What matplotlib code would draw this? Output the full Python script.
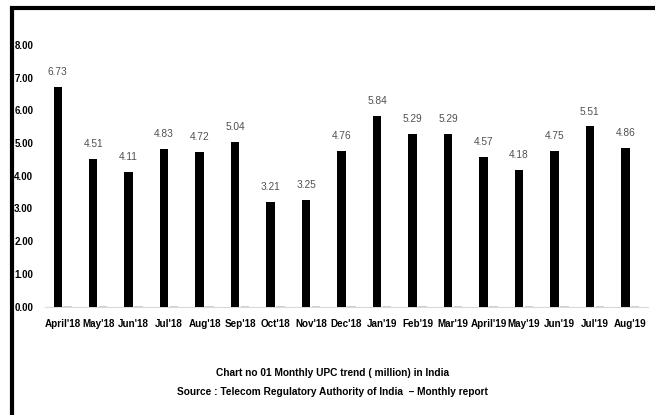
import numpy as np
import matplotlib
matplotlib.use("Agg")
import matplotlib.pyplot as plt
from matplotlib import font_manager
from matplotlib.patches import Rectangle

months = ["April'18", "May'18", "Jun'18", "Jul'18", "Aug'18", "Sep'18", "Oct'18",
          "Nov'18", "Dec'18", "Jan'19", "Feb'19", "Mar'19", "April'19", "May'19",
          "Jun'19", "Jul'19", "Aug'19"]
upc = [6.73, 4.51, 4.11, 4.83, 4.72, 5.04, 3.21, 3.25, 4.76, 5.84, 5.29, 5.29,
       4.57, 4.18, 4.75, 5.51, 4.86]
# second series in the original is almost zero (small grey stubs)
second = [0.03] * len(months)
yticks = [0, 1, 2, 3, 4, 5, 6, 7, 8]

names = {f.name for f in font_manager.fontManager.ttflist}
if 'Liberation Sans Narrow' in names:
    fam, k = 'Liberation Sans Narrow', 1.2
else:
    fam, k = 'Liberation Sans', 1.0
plt.rcParams['font.family'] = [fam, 'DejaVu Sans']

fig = plt.figure(figsize=(6.55, 4.15), dpi=100)
ax = fig.add_axes([45 / 655, 1 - 306.5 / 415, 603 / 655, 261.5 / 415])

x = np.arange(len(months))
w = 0.24
ax.bar(x - 0.14, upc, width=w, color='black', zorder=3)
ax.bar(x + 0.14, second, width=w, color='#d0d0d0', zorder=3)

for xi, v in zip(x, upc):
    ax.text(xi - 0.14, v + 0.3, "%.2f" % v, ha='center', va='bottom',
            fontsize=7.3 * k, color='#505050')

ax.set_xlim(-0.5, len(months) - 0.5)
ax.set_ylim(0, 8)
ax.set_yticks(yticks)
ax.set_yticklabels(["%.2f" % t for t in yticks], fontsize=7 * k, fontweight='bold')
ax.set_xticks(x)
ax.set_xticklabels(months, fontsize=7.1 * k, fontweight='bold')
ax.tick_params(axis='x', length=0, pad=9)
ax.tick_params(axis='y', length=0, pad=8.5)
for s in ['top', 'right', 'left']:
    ax.spines[s].set_visible(False)
ax.spines['bottom'].set_color('#d9d9d9')

fig.text(0.508, 1 - 373 / 415, "Chart no 01 Monthly UPC trend ( million) in India",
         ha='center', va='center', fontsize=7.3 * k, fontweight='bold')
fig.text(0.508, 1 - 392 / 415, "Source : Telecom Regulatory Authority of India  \u2013 Monthly report",
         ha='center', va='center', fontsize=7.3 * k, fontweight='bold')

# black frame on the top and left (rest is cropped away in the original)
fig.patches.append(Rectangle((11.5 / 655, -0.1), 2, 1.1 - 8.5 / 415,
                             transform=fig.transFigure, fill=False,
                             edgecolor='black', linewidth=3))

fig.savefig("out.png", dpi=100)
